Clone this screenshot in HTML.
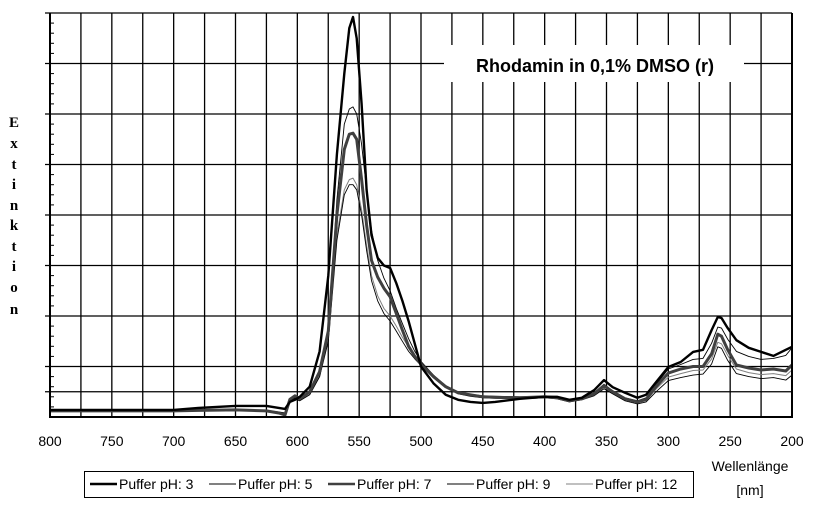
<!DOCTYPE html>
<html><head><meta charset="utf-8"><style>
html,body{margin:0;padding:0;background:#fff;width:814px;height:511px;overflow:hidden}
svg{display:block}
text{font-family:"Liberation Sans",Arial,sans-serif}
text.serif{font-family:"Liberation Serif","Times New Roman",serif}
</style></head><body>
<svg id="chart" width="814" height="511" xmlns="http://www.w3.org/2000/svg">
<g id="grid"></g>
<g id="series"></g>
<g id="axes"></g>
<g>
<rect x="444" y="45" width="300" height="37" fill="#fff"/>
<text x="595" y="72" font-size="18" font-weight="bold" text-anchor="middle">Rhodamin in 0,1% DMSO (r)</text>
</g>
<g font-weight="bold" font-size="15" text-anchor="middle">
<text class="serif" x="14" y="127">E</text><text class="serif" x="14" y="148">x</text><text class="serif" x="14" y="169">t</text><text class="serif" x="14" y="189">i</text><text class="serif" x="14" y="210">n</text><text class="serif" x="14" y="230">k</text><text class="serif" x="14" y="251">t</text><text class="serif" x="14" y="271">i</text><text class="serif" x="14" y="292">o</text><text class="serif" x="14" y="314">n</text>
</g>
<g font-size="14" text-anchor="middle">
<text x="750" y="471">Wellenlänge</text><text x="750" y="495">[nm]</text>
</g>
<g id="legend">
<rect x="84.5" y="471.5" width="609" height="26" fill="#fff" stroke="#000"/>
</g>
</svg>
<script>
const wavelengths=[800,700,680,650,625,615,610,606,602,598,590,582,575,568,562,558,555,552,548,544,540,535,530,525,520,515,510,505,500,490,480,470,460,450,440,420,400,390,380,370,360,352,345,335,325,318,310,300,290,280,272,265,260,257,252,245,235,225,215,205,200];
const ph3=[1.4,1.4,1.8,2.2,2.2,1.8,1.6,3.0,3.4,4.0,6.0,13,28,52,68,77,79.2,75,62,45,36,31.5,30,29.5,26.5,23,19,14.5,10,6.7,4.4,3.4,3.0,2.8,3.0,3.6,4.0,4.0,3.4,3.8,5.3,7.3,5.9,4.8,3.8,4.4,6.9,9.9,10.9,12.9,13.3,17.2,19.8,19.6,17.6,15.2,13.7,12.9,12.1,13.3,13.9];
const ph5=[1.2,1.2,1.3,1.4,1.3,1.0,0.8,3.2,3.8,3.5,5.0,9,17,43,58,61,61.4,60,54,45,37,31,27.5,25,21.5,18.5,15.5,13,11,8.3,6.2,5,4.5,4.2,4.1,4,4.1,3.9,3.3,3.7,4.8,6.5,5.2,3.8,3.2,3.8,6.4,9.5,10.4,11.4,11.6,14.6,17.8,17.6,15.4,13,12,11.4,11.6,12.2,13.7];
const ph7=[1.2,1.2,1.3,1.4,1.2,0.8,0.4,3.5,4.2,3.6,5.0,9,17,40,53,56,56.2,55,47,38,31,27.7,25.5,23.8,20.5,17.2,14,12,10.5,8,6,4.8,4.4,4,3.9,3.8,4,3.8,3.2,3.6,4.6,6.2,5,3.6,3,3.5,6,8.7,9.5,10,10,12.5,16.4,16,13.3,10.3,9.7,9.3,9.5,9.1,10.3];
const ph9=[1.2,1.2,1.3,1.4,1.2,0.8,0.4,3.0,3.6,3.2,4.4,8,15,35,44,46,46,45,40,33,27,23,20.5,19,17,15,13,11.5,10.2,7.8,5.8,4.6,4.1,3.8,3.7,3.6,3.8,3.6,3.0,3.4,4.2,5.6,4.6,3.2,2.6,3.0,5.0,7.2,7.8,8.3,8.5,10.5,13.9,13.6,11.2,8.6,8,7.6,7.8,7.3,8.3];
const ph12=[1.2,1.2,1.3,1.4,1.2,0.8,0.5,3.1,3.7,3.3,4.5,8,15.5,36,45,47,47.3,46,41,34,28,24,21.5,20,18,15.8,13.8,12.2,10.8,8.3,6.2,4.9,4.3,4,3.9,3.8,3.9,3.7,3.1,3.5,4.4,5.9,4.8,3.4,2.8,3.2,5.5,7.9,8.6,9.2,9.3,11.5,14.8,14.5,12.2,9.5,8.8,8.4,8.6,8.2,9.3];
const seriesNames=["Puffer pH: 3","Puffer pH: 5","Puffer pH: 7","Puffer pH: 9","Puffer pH: 12"];
const xTicks=[800,750,700,650,600,550,500,450,400,350,300,250,200];

const NS="http://www.w3.org/2000/svg";
const L=50,R=792,T=13,B=417;
function xs(nm){return L+(800-nm)/600*(R-L);}
function ys(v){return B-v/80*(B-T);}
function mk(tag,attrs,parent){const e=document.createElementNS(NS,tag);for(const k in attrs)e.setAttribute(k,attrs[k]);parent.appendChild(e);return e;}

const grid=document.getElementById('grid');
for(let nm=775;nm>200;nm-=25){
  const l=mk('line',{x1:xs(nm),x2:xs(nm),y1:T,y2:B,stroke:'#000','stroke-width':1.3},grid);
  
  
}
const hLevels=[10,20,30,40,50,60,70,80,5];
hLevels.forEach(v=>{
  const l=mk('line',{x1:45,x2:R,y1:ys(v),y2:ys(v),stroke:'#000','stroke-width':1.3},grid);
  
  
});
for(let v=2;v<80;v+=2){
  if(v%10===0)continue;
  const t=mk('line',{x1:L,x2:L+4,y1:ys(v),y2:ys(v),stroke:'#000','stroke-width':1},grid);
  
  
}
const axes=document.getElementById('axes');
const ax=mk('path',{d:`M${L},${T}V${B}H${R}V${T}`,fill:'none',stroke:'#000','stroke-width':2},axes);


xTicks.forEach(nm=>{
  const t=mk('text',{x:xs(nm),y:446,'font-size':14,'text-anchor':'middle'},axes);
  t.textContent=nm;
  
  
});

const styles=[{c:'#000',w:2.4},{c:'#000',w:0.9},{c:'#404040',w:3},{c:'#000',w:0.9},{c:'#808080',w:1}];
const data=[ph3,ph5,ph7,ph9,ph12];
const sg=document.getElementById('series');
[4,3,1,2,0].forEach(i=>{
  const d=wavelengths.map((nm,j)=>(j?'L':'M')+xs(nm).toFixed(1)+','+ys(data[i][j]).toFixed(1)).join('');
  const p=mk('path',{d:d,fill:'none',stroke:styles[i].c,'stroke-width':styles[i].w,'stroke-linejoin':'round'},sg);
  
  
});

const lg=document.getElementById('legend');
const lx=[90,209,328,447,566];
seriesNames.forEach((n,i)=>{
  const l=mk('line',{x1:lx[i],x2:lx[i]+27,y1:484,y2:484,stroke:styles[i].c,'stroke-width':Math.min(styles[i].w,2.5)},lg);
  
  
  const t=mk('text',{x:lx[i]+29,y:489,'font-size':14},lg);
  t.textContent=n;
  
  
});
</script>
</body></html>
